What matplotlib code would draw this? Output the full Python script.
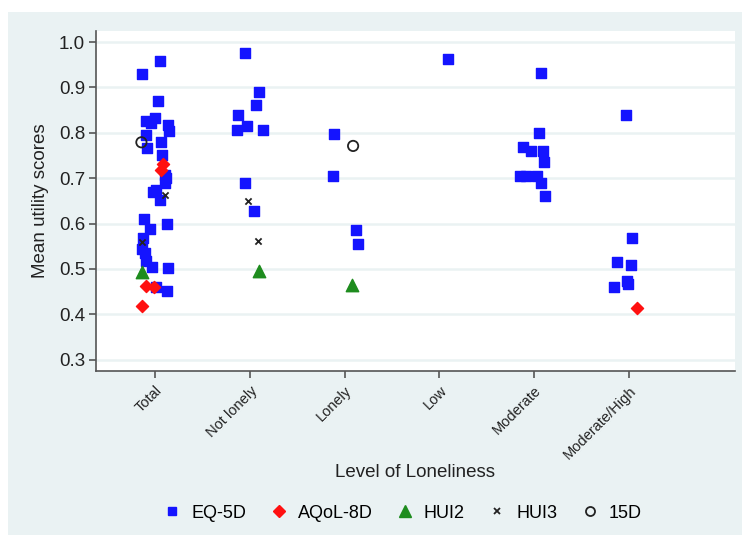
import matplotlib
matplotlib.use("Agg")
import matplotlib.pyplot as plt
from matplotlib.patches import Rectangle
from matplotlib.lines import Line2D

plt.rcParams['font.family'] = ['Liberation Sans', 'DejaVu Sans']

categories = ["Total", "Not lonely", "Lonely", "Low", "Moderate", "Moderate/High"]

# EQ-5D: category, value, horizontal jitter
eq5d_cat = (["Total"] * 29 + ["Not lonely"] * 9 + ["Lonely"] * 4 + ["Low"]
            + ["Moderate"] * 11 + ["Moderate/High"] * 7)
eq5d_val = [0.958, 0.929, 0.869, 0.826, 0.833, 0.821, 0.818, 0.805, 0.794, 0.766,
            0.780, 0.751, 0.708, 0.700, 0.689, 0.670, 0.673, 0.651, 0.610, 0.599,
            0.588, 0.568, 0.544, 0.535, 0.517, 0.505, 0.501, 0.460, 0.452,
            0.976, 0.890, 0.861, 0.839, 0.815, 0.807, 0.807, 0.690, 0.628,
            0.798, 0.705, 0.585, 0.554,
            0.962,
            0.932, 0.799, 0.769, 0.759, 0.759, 0.736, 0.704, 0.704, 0.704, 0.690, 0.661,
            0.840, 0.567, 0.515, 0.508, 0.474, 0.467, 0.459]
eq5d_jit = [0.046, -0.140, 0.025, -0.095, -0.007, -0.042, 0.130, 0.144, -0.098, -0.088,
            0.060, 0.070, 0.105, 0.109, 0.102, -0.025, 0.011, 0.049, -0.119, 0.119,
            -0.053, -0.130, -0.137, -0.112, -0.095, -0.035, 0.133, 0.007, 0.126,
            -0.053, 0.095, 0.063, -0.130, -0.035, -0.140, 0.133, -0.056, 0.042,
            -0.109, -0.123, 0.116, 0.137,
            0.088,
            0.070, 0.049, -0.119, -0.035, 0.098, 0.102, -0.151, -0.088, 0.028, 0.067, 0.109,
            -0.035, 0.035, -0.123, 0.021, -0.018, -0.007, -0.158]

aqol_cat = ["Total"] * 5 + ["Moderate/High"]
aqol_val = [0.732, 0.718, 0.463, 0.460, 0.419, 0.413]
aqol_jit = [0.081, 0.060, -0.102, -0.018, -0.140, 0.081]

hui2_cat = ["Total", "Not lonely", "Lonely"]
hui2_val = [0.493, 0.495, 0.465]
hui2_jit = [-0.140, 0.095, 0.077]

hui3_cat = ["Total", "Total", "Not lonely", "Not lonely"]
hui3_val = [0.662, 0.560, 0.649, 0.562]
hui3_jit = [0.102, -0.140, -0.018, 0.088]

d15_cat = ["Total", "Lonely"]
d15_val = [0.779, 0.771]
d15_jit = [-0.147, 0.088]


def xpos(cats, jit):
    return [categories.index(c) + 1 + j for c, j in zip(cats, jit)]


fig = plt.figure(figsize=(7.42, 5.47), dpi=100)
bg = '#eaf2f3'
fig.patches.append(Rectangle((8 / 742, 12 / 547), 734 / 742, 523 / 547,
                             transform=fig.transFigure, facecolor=bg,
                             edgecolor='none', zorder=-10))

ax = fig.add_axes([0.1298, 0.3218, 0.8608, 0.6221])
ax.set_zorder(1)
ax.set_facecolor('white')

ax.scatter(xpos(eq5d_cat, eq5d_jit), eq5d_val, marker='s', s=44,
           color='#1414ff', zorder=3, label='EQ-5D')
ax.scatter(xpos(aqol_cat, aqol_jit), aqol_val, marker='D', s=38,
           color='#ff1010', zorder=4, label='AQoL-8D')
ax.scatter(xpos(hui2_cat, hui2_jit), hui2_val, marker='^', s=80,
           color='#1e8c1e', zorder=4, label='HUI2')
ax.scatter(xpos(hui3_cat, hui3_jit), hui3_val, marker='x', s=20,
           color='#222222', linewidths=1.3, zorder=5, label='HUI3')
ax.scatter(xpos(d15_cat, d15_jit), d15_val, marker='o', s=55,
           facecolors='none', edgecolors='#222222', linewidths=1.3,
           zorder=5, label='15D')

ax.set_xlim(0.377, 7.12)
ax.set_ylim(0.275, 1.025)
ax.set_yticks([0.3, 0.4, 0.5, 0.6, 0.7, 0.8, 0.9, 1.0])
ax.set_yticklabels(['0.3', '0.4', '0.5', '0.6', '0.7', '0.8', '0.9', '1.0'])
ax.yaxis.grid(True, color=bg, linewidth=1.8)
ax.set_axisbelow(True)

ax.set_xticks(range(1, len(categories) + 1))
ax.set_xticklabels(categories, rotation=45, ha='right', va='top',
                   rotation_mode='anchor', fontsize=10.5, color='#222222')
ax.tick_params(axis='y', labelsize=13.5, colors='#555555', labelcolor='#222222',
               length=5, width=1.2, pad=3)
ax.tick_params(axis='x', colors='#555555', labelcolor='#222222',
               length=5, width=1.2, pad=4)

for side in ['top', 'right']:
    ax.spines[side].set_visible(False)
for side in ['left', 'bottom']:
    ax.spines[side].set_color('#555555')
    ax.spines[side].set_linewidth(1.2)

fig.text(0.054, 0.633, 'Mean utility scores', rotation=90, ha='center',
         va='center', fontsize=13.5, color='#222222')
fig.text(0.559, 0.137, 'Level of Loneliness', ha='center', va='center',
         fontsize=13.5, color='#222222')

handles = [
    Line2D([], [], linestyle='none', marker='s', markersize=6, color='#1414ff'),
    Line2D([], [], linestyle='none', marker='D', markersize=6, color='#ff1010'),
    Line2D([], [], linestyle='none', marker='^', markersize=8, color='#1e8c1e'),
    Line2D([], [], linestyle='none', marker='x', markersize=4.5, color='#222222',
           markeredgewidth=1.3),
    Line2D([], [], linestyle='none', marker='o', markersize=6.5,
           markerfacecolor='none', markeredgecolor='#222222', markeredgewidth=1.3),
]
fig.legend(handles, ['EQ-5D', 'AQoL-8D', 'HUI2', 'HUI3', '15D'],
           loc='center', bbox_to_anchor=(0.5426, 0.062), ncol=5, frameon=False,
           fontsize=13, handletextpad=0.55, columnspacing=1.3, handlelength=1.0)

fig.savefig('out.png', dpi=100)
